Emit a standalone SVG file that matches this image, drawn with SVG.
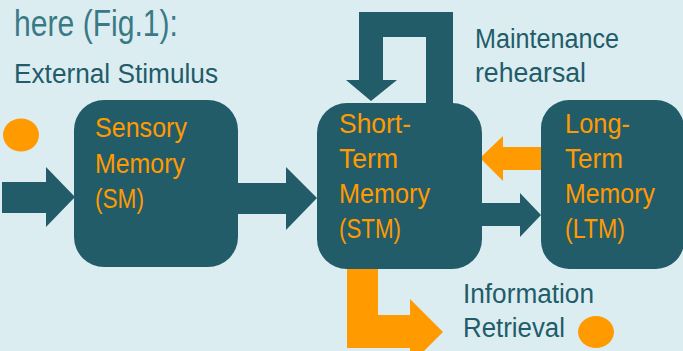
<svg xmlns="http://www.w3.org/2000/svg" width="683" height="351" viewBox="0 0 683 351">
<style>
.bg{fill:#dcedf2}
.box{fill:#225c69}
.dark{fill:#225c69}
.or{fill:#ff9a00}
.lbl{font-family:"Liberation Sans",Arial,sans-serif;font-size:27px;fill:#ff9a00}
.txt{font-family:"Liberation Sans",Arial,sans-serif;font-size:27px;fill:#225c69}
.title{font-family:"Liberation Sans",Arial,sans-serif;font-size:36px;fill:#3a7a85}
</style>
<rect class="bg" x="0" y="0" width="683" height="351"/>
<text class="title" x="14" y="36" textLength="164" lengthAdjust="spacingAndGlyphs">here (Fig.1):</text>
<text class="txt" x="14" y="83" textLength="204" lengthAdjust="spacingAndGlyphs">External Stimulus</text>
<g id="connectors">
  <polygon class="dark" points="2,182 46,182 46,167 75,197 46,227 46,213 2,213"/>
  <polygon class="dark" points="238,183 286,183 286,167 317,198 286,230 286,214 238,214"/>
  <polygon class="dark" points="453,104 453,12 359,12 359,80 346,80 371,101 397,80 383,80 383,37 426,37 426,104"/>
  <polygon class="or" points="541,147 503,147 503,136 480,158 503,181 503,170 541,170"/>
  <polygon class="dark" points="482,203 520,203 520,193 541,215 520,237 520,226 482,226"/>
  <polygon class="or" points="347,268 378,268 378,315 410,315 410,299 443,332 410,365 410,348 347,348"/>
</g>
<g id="input-marker">
  <ellipse class="or" cx="21" cy="135" rx="18" ry="16.5"/>
</g>
<g id="sm">
  <rect class="box" x="74" y="100" width="164" height="167" rx="30"/>
  <text class="lbl" x="95" y="137" textLength="92" lengthAdjust="spacingAndGlyphs">Sensory</text>
  <text class="lbl" x="95" y="173" textLength="90" lengthAdjust="spacingAndGlyphs">Memory</text>
  <text class="lbl" x="95" y="208" textLength="49" lengthAdjust="spacingAndGlyphs">(SM)</text>
</g>
<g id="stm">
  <rect class="box" x="317" y="103" width="165" height="166" rx="30"/>
  <text class="lbl" x="339" y="133" textLength="72" lengthAdjust="spacingAndGlyphs">Short-</text>
  <text class="lbl" x="339" y="168" textLength="59" lengthAdjust="spacingAndGlyphs">Term</text>
  <text class="lbl" x="339" y="203" textLength="91" lengthAdjust="spacingAndGlyphs">Memory</text>
  <text class="lbl" x="339" y="238" textLength="62" lengthAdjust="spacingAndGlyphs">(STM)</text>
</g>
<g id="ltm">
  <rect class="box" x="541" y="100" width="143" height="169" rx="28"/>
  <text class="lbl" x="565" y="133" textLength="65" lengthAdjust="spacingAndGlyphs">Long-</text>
  <text class="lbl" x="565" y="168" textLength="58" lengthAdjust="spacingAndGlyphs">Term</text>
  <text class="lbl" x="565" y="203" textLength="90" lengthAdjust="spacingAndGlyphs">Memory</text>
  <text class="lbl" x="565" y="238" textLength="60" lengthAdjust="spacingAndGlyphs">(LTM)</text>
</g>
<g id="maintenance-label">
  <text class="txt" x="475" y="48" textLength="144" lengthAdjust="spacingAndGlyphs">Maintenance</text>
  <text class="txt" x="475" y="82" textLength="111" lengthAdjust="spacingAndGlyphs">rehearsal</text>
</g>
<g id="retrieval">
  <text class="txt" x="463" y="303" textLength="131" lengthAdjust="spacingAndGlyphs">Information</text>
  <text class="txt" x="463" y="337" textLength="102" lengthAdjust="spacingAndGlyphs">Retrieval</text>
  <ellipse class="or" cx="596" cy="332" rx="18" ry="16"/>
</g>
</svg>
